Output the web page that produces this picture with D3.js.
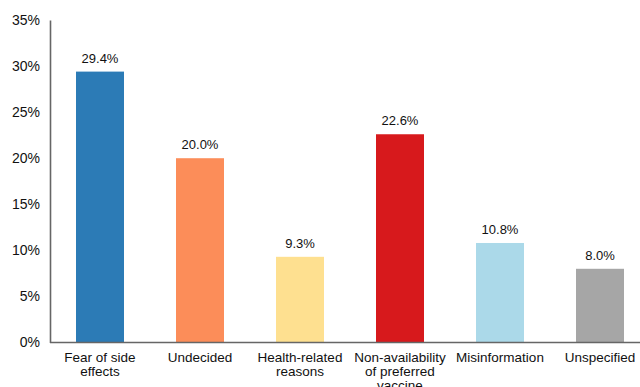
<!DOCTYPE html>
<html>
<head>
<meta charset="utf-8">
<script src="https://cdn.jsdelivr.net/npm/d3@7"></script>
<style>
  body { margin: 0; background: #fff; }
  text { font-family: Helvetica, Arial, "Liberation Sans", sans-serif; fill: #111; }
</style>
</head>
<body>
<div id="chart"></div>
<script>
// data
var categories = ["Fear of side effects", "Undecided", "Health-related reasons",
                  "Non-availability of preferred vaccine", "Misinformation", "Unspecified"];
var labelLines = [["Fear of side", "effects"], ["Undecided"], ["Health-related", "reasons"],
                  ["Non-availability", "of preferred", "vaccine"], ["Misinformation"], ["Unspecified"]];
var values = [29.4, 20.0, 9.3, 22.6, 10.8, 8.0];
var colors = ["#2c7bb6", "#fc8d59", "#fee090", "#d7191c", "#abd9e9", "#a6a6a6"];
var yTicks = [0, 5, 10, 15, 20, 25, 30, 35];

var width = 640, height = 387;
var margin = {top: 20, right: 0, bottom: 45, left: 50};

var svg = d3.select("#chart")
    .append("svg")
    .attr("width", width)
    .attr("height", height);

var x = d3.scaleBand()
    .domain(categories)
    .range([margin.left, margin.left + 600])
    .paddingInner(0.52)
    .paddingOuter(0.26);

var y = d3.scaleLinear()
    .domain([0, 35])
    .range([height - margin.bottom + 0.5, margin.top]);

// bars
svg.selectAll("rect.bar")
    .data(values)
    .enter().append("rect")
    .attr("class", "bar")
    .attr("x", function(d, i) { return x(categories[i]); })
    .attr("width", x.bandwidth())
    .attr("y", function(d) { return y(d); })
    .attr("height", function(d) { return y(0) - y(d); })
    .attr("fill", function(d, i) { return colors[i]; });

// value labels
svg.selectAll("text.val")
    .data(values)
    .enter().append("text")
    .attr("class", "val")
    .attr("x", function(d, i) { return x(categories[i]) + x.bandwidth() / 2; })
    .attr("y", function(d) { return y(d) - 9; })
    .attr("text-anchor", "middle")
    .style("font-size", "13px")
    .text(function(d) { return d.toFixed(1) + "%"; });

// Y axis
var yAxis = svg.append("g")
    .attr("transform", "translate(" + margin.left + ",0)")
    .call(d3.axisLeft(y).tickValues(yTicks).tickSize(0).tickPadding(10)
        .tickFormat(function(d) { return d + "%"; }));
yAxis.select(".domain").attr("stroke", "#666").attr("stroke-width", 1.6);
yAxis.selectAll("text").style("font-size", "14px").attr("fill", "#111");

// X axis
var xAxis = svg.append("g")
    .attr("transform", "translate(0," + y(0) + ")")
    .call(d3.axisBottom(x).tickSize(0).tickFormat(""));
xAxis.select(".domain")
    .attr("d", "M" + margin.left + ",0H" + width)
    .attr("stroke", "#666").attr("stroke-width", 1.6);

// category labels, wrapped
var lab = svg.selectAll("text.cat")
    .data(categories)
    .enter().append("text")
    .attr("class", "cat")
    .attr("x", function(d) { return x(d) + x.bandwidth() / 2; })
    .attr("y", y(0) + 19)
    .attr("text-anchor", "middle")
    .style("font-size", "13.5px");
lab.each(function(d, i) {
    var t = d3.select(this);
    labelLines[i].forEach(function(line, j) {
        t.append("tspan")
            .attr("x", x(d) + x.bandwidth() / 2)
            .attr("dy", j == 0 ? 0 : 14)
            .text(line);
    });
});
</script>
</body>
</html>
